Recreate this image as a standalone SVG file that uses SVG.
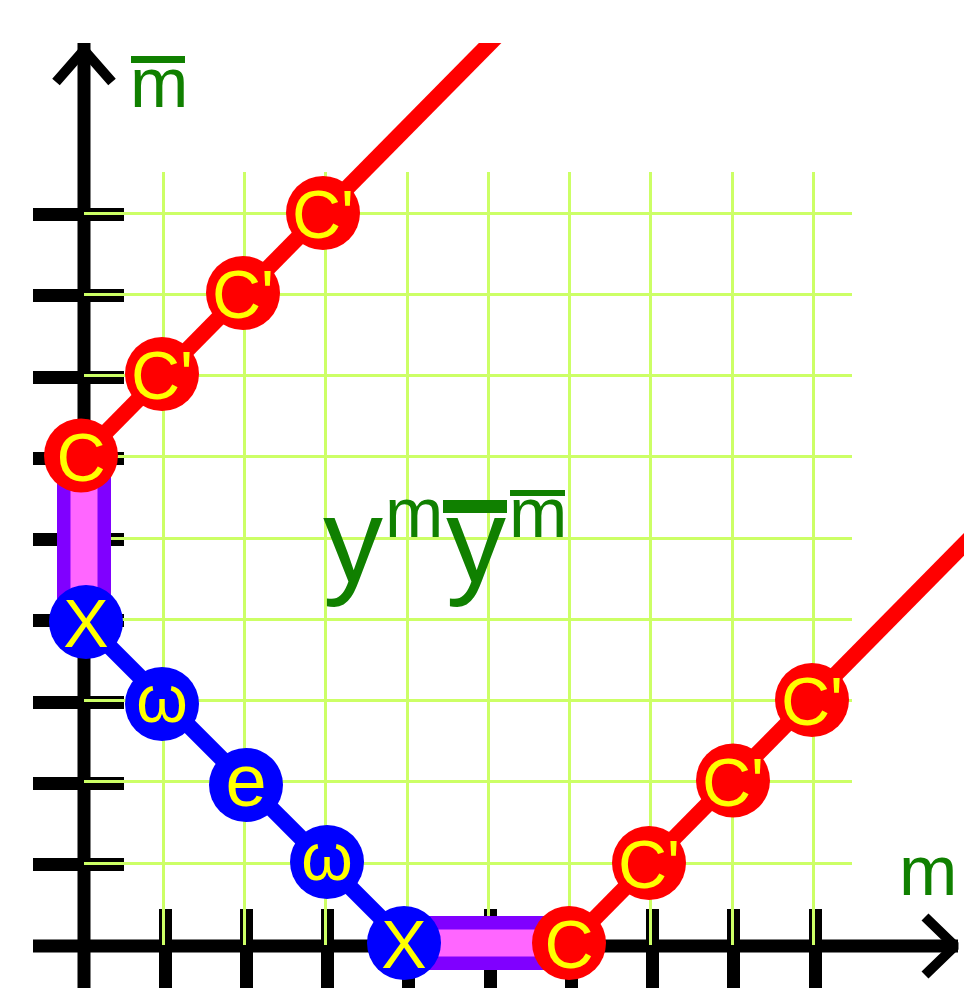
<svg xmlns="http://www.w3.org/2000/svg" width="964" height="988" viewBox="0 0 964 988">
<style>
.ax{stroke:#000;stroke-width:13;fill:none}
.arw{stroke:#000;stroke-width:10;fill:none;stroke-linejoin:bevel}
.tk{fill:#000}
.gr{stroke:#ccff66;stroke-width:3}
.red{stroke:#ff0000;stroke-width:16;fill:none}
.blue{stroke:#0000ff;stroke-width:16;fill:none}
.rn{fill:#ff0000}
.bn{fill:#0000ff}
.lbl{fill:#ffff00;font-family:"Liberation Sans",Arial,sans-serif;text-anchor:middle}
.g{fill:#108000;font-family:"Liberation Sans",Arial,sans-serif}
</style>
<defs>
<clipPath id="top"><rect x="0" y="43" width="964" height="945"/></clipPath>
</defs>
<rect width="964" height="988" fill="#fff"/>
<g id="axes">
<line class="ax" x1="84" y1="43" x2="84" y2="988"/>
<line class="ax" x1="33" y1="946" x2="958" y2="946"/>
<polyline class="arw" points="56,82 84,50 112,82"/>
<polyline class="arw" points="925,917 955,946 925,975"/>
<g class="tk">
<rect x="33" y="858" width="91" height="13"/>
<rect x="33" y="777" width="91" height="13"/>
<rect x="33" y="696" width="91" height="13"/>
<rect x="33" y="614" width="91" height="13"/>
<rect x="33" y="533" width="91" height="13"/>
<rect x="33" y="452" width="91" height="13"/>
<rect x="33" y="371" width="91" height="13"/>
<rect x="33" y="289" width="91" height="13"/>
<rect x="33" y="208" width="91" height="13"/>
<rect x="159" y="909" width="13" height="79"/>
<rect x="240" y="909" width="13" height="79"/>
<rect x="321" y="909" width="13" height="79"/>
<rect x="402" y="909" width="13" height="79"/>
<rect x="484" y="909" width="13" height="79"/>
<rect x="565" y="909" width="13" height="79"/>
<rect x="646" y="909" width="13" height="79"/>
<rect x="727" y="909" width="13" height="79"/>
<rect x="809" y="909" width="13" height="79"/>
</g>
</g>
<g id="grid" class="gr">
<line x1="163.5" y1="172" x2="163.5" y2="945"/>
<line x1="244.5" y1="172" x2="244.5" y2="945"/>
<line x1="325.5" y1="172" x2="325.5" y2="945"/>
<line x1="407.5" y1="172" x2="407.5" y2="945"/>
<line x1="488.5" y1="172" x2="488.5" y2="945"/>
<line x1="569.5" y1="172" x2="569.5" y2="945"/>
<line x1="650.5" y1="172" x2="650.5" y2="945"/>
<line x1="732.5" y1="172" x2="732.5" y2="945"/>
<line x1="813.5" y1="172" x2="813.5" y2="945"/>
<line x1="84" y1="863.5" x2="852" y2="863.5"/>
<line x1="84" y1="781.5" x2="852" y2="781.5"/>
<line x1="84" y1="700.5" x2="852" y2="700.5"/>
<line x1="84" y1="619.5" x2="852" y2="619.5"/>
<line x1="84" y1="538.5" x2="852" y2="538.5"/>
<line x1="84" y1="456.5" x2="852" y2="456.5"/>
<line x1="84" y1="375.5" x2="852" y2="375.5"/>
<line x1="84" y1="294.5" x2="852" y2="294.5"/>
<line x1="84" y1="213.5" x2="852" y2="213.5"/>
</g>
<g id="connectors">
<line class="red" x1="82" y1="456.5" x2="500" y2="33" clip-path="url(#top)"/>
<line class="red" x1="569.5" y1="944" x2="1000" y2="508"/>
<line class="blue" x1="82" y1="619" x2="407" y2="944"/>
<rect x="57" y="456.5" width="54" height="162.5" fill="#8000ff"/>
<rect x="70.5" y="456.5" width="27" height="162.5" fill="#ff66ff"/>
<rect x="407" y="916" width="162.5" height="54" fill="#8000ff"/>
<rect x="407" y="929.5" width="162.5" height="27" fill="#ff66ff"/>
</g>
<g id="n-c0"><circle class="rn" cx="81" cy="455.5" r="37"/><text class="lbl" x="81" y="481" font-size="68">C</text></g>
<g id="n-c1"><circle class="rn" cx="162" cy="374" r="37"/><text class="lbl" x="162" y="399" font-size="68">C'</text></g>
<g id="n-c2"><circle class="rn" cx="243" cy="293" r="37"/><text class="lbl" x="243" y="318" font-size="68">C'</text></g>
<g id="n-c3"><circle class="rn" cx="323" cy="213" r="37"/><text class="lbl" x="323" y="238" font-size="68">C'</text></g>
<g id="n-x0"><circle class="bn" cx="86" cy="622" r="37"/><text class="lbl" x="86" y="647" font-size="68">X</text></g>
<g id="n-w1"><circle class="bn" cx="162" cy="704" r="37"/><text class="lbl" x="162" y="722" font-size="66">ω</text></g>
<g id="n-e"><circle class="bn" cx="246" cy="785" r="37"/><text class="lbl" x="246" y="806" font-size="74">e</text></g>
<g id="n-w2"><circle class="bn" cx="327" cy="862" r="37"/><text class="lbl" x="327" y="880" font-size="66">ω</text></g>
<g id="n-x1"><circle class="bn" cx="404" cy="943" r="37"/><text class="lbl" x="404" y="968" font-size="68">X</text></g>
<g id="n-c4"><circle class="rn" cx="569" cy="943" r="37"/><text class="lbl" x="569" y="968" font-size="68">C</text></g>
<g id="n-c5"><circle class="rn" cx="649" cy="863" r="37"/><text class="lbl" x="649" y="888" font-size="68">C'</text></g>
<g id="n-c6"><circle class="rn" cx="733" cy="780.5" r="37"/><text class="lbl" x="733" y="805.5" font-size="68">C'</text></g>
<g id="n-c7"><circle class="rn" cx="812" cy="700" r="37"/><text class="lbl" x="812" y="725" font-size="68">C'</text></g>
<g id="labels">
<rect x="131" y="56" width="54" height="7" fill="#108000"/>
<text class="g" x="130" y="107" font-size="70">m</text>
<text class="g" x="899" y="895" font-size="70">m</text>
<text class="g" x="323" y="582" font-size="120">y</text>
<text class="g" x="385" y="537" font-size="70">m</text>
<rect x="443" y="500" width="64" height="13" fill="#108000"/>
<text class="g" x="446" y="582" font-size="120">y</text>
<rect x="510" y="490" width="55" height="6" fill="#108000"/>
<text class="g" x="509" y="537" font-size="70">m</text>
</g>
</svg>
